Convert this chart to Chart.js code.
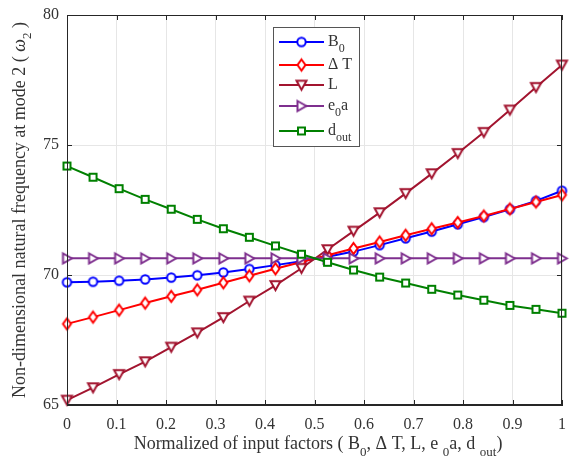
<!DOCTYPE html>
<html><head><meta charset="utf-8">
<script src="https://cdn.jsdelivr.net/npm/chart.js@4/dist/chart.umd.min.js"></script>
<style>html,body{margin:0;padding:0;background:#fff}</style>
</head><body>
<canvas id="c" width="570" height="464"></canvas>
<script>
// ---- data ----
const xValues = [0, 0.0526, 0.1053, 0.1579, 0.2105, 0.2632, 0.3158, 0.3684, 0.4211, 0.4737,
                 0.5263, 0.5789, 0.6316, 0.6842, 0.7368, 0.7895, 0.8421, 0.8947, 0.9474, 1];
const seriesB0   = [69.72, 69.74, 69.78, 69.83, 69.90, 69.99, 70.10, 70.23, 70.38, 70.53,
                    70.70, 70.90, 71.15, 71.41, 71.67, 71.95, 72.23, 72.53, 72.85, 73.24];
const seriesDT   = [68.12, 68.38, 68.65, 68.92, 69.18, 69.43, 69.70, 69.97, 70.24, 70.50,
                    70.76, 71.02, 71.27, 71.53, 71.78, 72.02, 72.27, 72.54, 72.81, 73.08];
const seriesL    = [65.19, 65.67, 66.18, 66.67, 67.23, 67.78, 68.37, 69.00, 69.60, 70.26,
                    70.98, 71.69, 72.40, 73.14, 73.90, 74.68, 75.49, 76.35, 77.22, 78.08];
const seriesE0a  = [70.64, 70.64, 70.64, 70.64, 70.64, 70.64, 70.64, 70.64, 70.64, 70.64,
                    70.64, 70.64, 70.64, 70.64, 70.64, 70.64, 70.64, 70.64, 70.64, 70.64];
const seriesDout = [74.19, 73.76, 73.32, 72.91, 72.53, 72.14, 71.78, 71.45, 71.12, 70.80,
                    70.49, 70.19, 69.92, 69.69, 69.45, 69.23, 69.03, 68.83, 68.68, 68.53];
const xTickStep = 0.1, yMin = 65, yMax = 80, yTickStep = 5;
const legendLabels = [[['B'],['0',1]], [['Δ T']], [['L']], [['e'],['0',1],['a']], [['d'],['out',1]]];
const yTitle = [['Non-dimensional natural frequency at mode 2 ( '],['ω',0,1],['2',1],[' )']];
const xTitle = [['Normalized of input factors ( B'],['0',1],[', Δ T, L, e '],['0',1],['a, d '],['out',1],[')']];

const FONT = '"Liberation Serif", "Times New Roman", serif';
const TXT = '#333333';
const colors = ['#0000FF', '#FF0000', '#A2142F', '#7E2F8E', '#008000'];
const shapes = ['circle', 'diamond', 'triDown', 'triRight', 'square'];

function makeMarker(shape, color) {
  const c = document.createElement('canvas');
  c.width = 17; c.height = 17;
  const g = c.getContext('2d');
  g.lineWidth = 2; g.strokeStyle = color; g.fillStyle = '#fff';
  g.beginPath();
  const m = 8.5;
  if (shape === 'circle') g.arc(m, m, 4.2, 0, Math.PI * 2);
  else if (shape === 'diamond') { g.moveTo(m, m - 5.5); g.lineTo(m + 4, m); g.lineTo(m, m + 5.5); g.lineTo(m - 4, m); g.closePath(); }
  else if (shape === 'triDown') { g.moveTo(m - 5, m - 4.2); g.lineTo(m + 5, m - 4.2); g.lineTo(m, m + 4.8); g.closePath(); }
  else if (shape === 'triRight') { g.moveTo(m - 4, m - 5); g.lineTo(m + 4.8, m); g.lineTo(m - 4, m + 5); g.closePath(); }
  else if (shape === 'square') { g.rect(m - 3.5, m - 3.5, 7, 7); }
  g.fill(); g.stroke();
  return c;
}
const markers = shapes.map((s, i) => makeMarker(s, colors[i]));
const allSeries = [seriesB0, seriesDT, seriesL, seriesE0a, seriesDout];

function fontFor(s, size, subSize) {
  return (s[2] ? 'italic ' : '') + (s[1] ? subSize : size) + 'px ' + FONT;
}
function drawRich(ctx, segs, x, y, size, subSize, subDy, align) {
  let w = 0;
  segs.forEach(s => { ctx.font = fontFor(s, size, subSize); w += ctx.measureText(s[0]).width; });
  let cx = align === 'center' ? x - w / 2 : x;
  ctx.textAlign = 'left'; ctx.textBaseline = 'alphabetic';
  segs.forEach(s => {
    ctx.font = fontFor(s, size, subSize);
    ctx.fillText(s[0], cx, y + (s[1] ? subDy : 0));
    cx += ctx.measureText(s[0]).width;
  });
}

const decor = {
  id: 'decor',
  afterDraw(chart) {
    const ctx = chart.ctx, a = chart.chartArea;
    const xs = chart.scales.x, ys = chart.scales.y;
    ctx.save();
    ctx.strokeStyle = '#262626'; ctx.lineWidth = 1;
    ctx.strokeRect(Math.round(a.left) + 0.5, Math.round(a.top) + 0.5, Math.round(a.right - a.left) - 1, Math.round(a.bottom - a.top) - 1);
    ctx.beginPath();
    xs.ticks.forEach(t => {
      const p = Math.round(xs.getPixelForValue(t.value)) + 0.5;
      ctx.moveTo(p, a.bottom); ctx.lineTo(p, a.bottom - 5);
      ctx.moveTo(p, a.top); ctx.lineTo(p, a.top + 5);
    });
    ys.ticks.forEach(t => {
      const p = Math.round(ys.getPixelForValue(t.value)) + 0.5;
      ctx.moveTo(a.left, p); ctx.lineTo(a.left + 5, p);
      ctx.moveTo(a.right, p); ctx.lineTo(a.right - 5, p);
    });
    ctx.stroke();
    // titles
    ctx.fillStyle = TXT;
    drawRich(ctx, xTitle, 318, 449, 18, 13, 7, 'center');
    ctx.translate(25, (a.top + a.bottom) / 2);
    ctx.rotate(-Math.PI / 2);
    drawRich(ctx, yTitle, 0, 0, 18, 13, 6, 'center');
    ctx.restore();
    // legend
    ctx.save();
    const bx = 273.5, by = 27.5, bw = 86, bh = 119;
    ctx.fillStyle = '#fff'; ctx.fillRect(bx, by, bw, bh);
    ctx.strokeStyle = '#555'; ctx.lineWidth = 1; ctx.strokeRect(bx, by, bw, bh);
    const rowsY = [42, 65, 85, 106, 131];
    rowsY.forEach((ry, i) => {
      ctx.strokeStyle = colors[i]; ctx.lineWidth = 2;
      ctx.beginPath(); ctx.moveTo(279, ry); ctx.lineTo(324, ry); ctx.stroke();
      ctx.drawImage(markers[i], 301.5 - 8.5, ry - 8.5);
      ctx.fillStyle = TXT;
      drawRich(ctx, legendLabels[i], 328, ry + 4, 16, 12, 6, 'left');
    });
    ctx.restore();
  }
};

const datasets = allSeries.map((s, i) => ({
  data: s.map((v, k) => ({ x: xValues[k], y: v })),
  borderColor: colors[i],
  backgroundColor: colors[i],
  borderWidth: 2,
  pointStyle: markers[i],
  pointRadius: 6,
  pointHoverRadius: 6,
  clip: false,
  order: 4 - i,
  tension: 0
}));

new Chart(document.getElementById('c'), {
  type: 'line',
  data: { datasets },
  plugins: [decor],
  options: {
    responsive: false,
    animation: false,
    layout: { padding: { top: 15, right: 5, left: 0, bottom: 0 } },
    plugins: { legend: { display: false }, tooltip: { enabled: false } },
    scales: {
      x: {
        type: 'linear', min: 0, max: 1,
        ticks: { stepSize: xTickStep, padding: 10, color: TXT, font: { family: FONT, size: 16 },
                 maxRotation: 0, callback: v => String(Math.round(v * 10) / 10) },
        grid: { color: '#e6e6e6', drawTicks: false },
        border: { color: '#262626' },
        afterFit(s) { s.height = 59; s.paddingLeft = 0; s.paddingRight = 0; s.paddingTop = 0; s.paddingBottom = 0; }
      },
      y: {
        min: yMin, max: yMax,
        ticks: { stepSize: yTickStep, padding: 8, color: TXT, font: { family: FONT, size: 16 } },
        grid: { color: '#e6e6e6', drawTicks: false },
        border: { color: '#262626' },
        afterFit(s) { s.width = 67; s.paddingLeft = 0; s.paddingRight = 0; s.paddingTop = 0; s.paddingBottom = 0; }
      }
    }
  }
});
</script>
</body></html>
